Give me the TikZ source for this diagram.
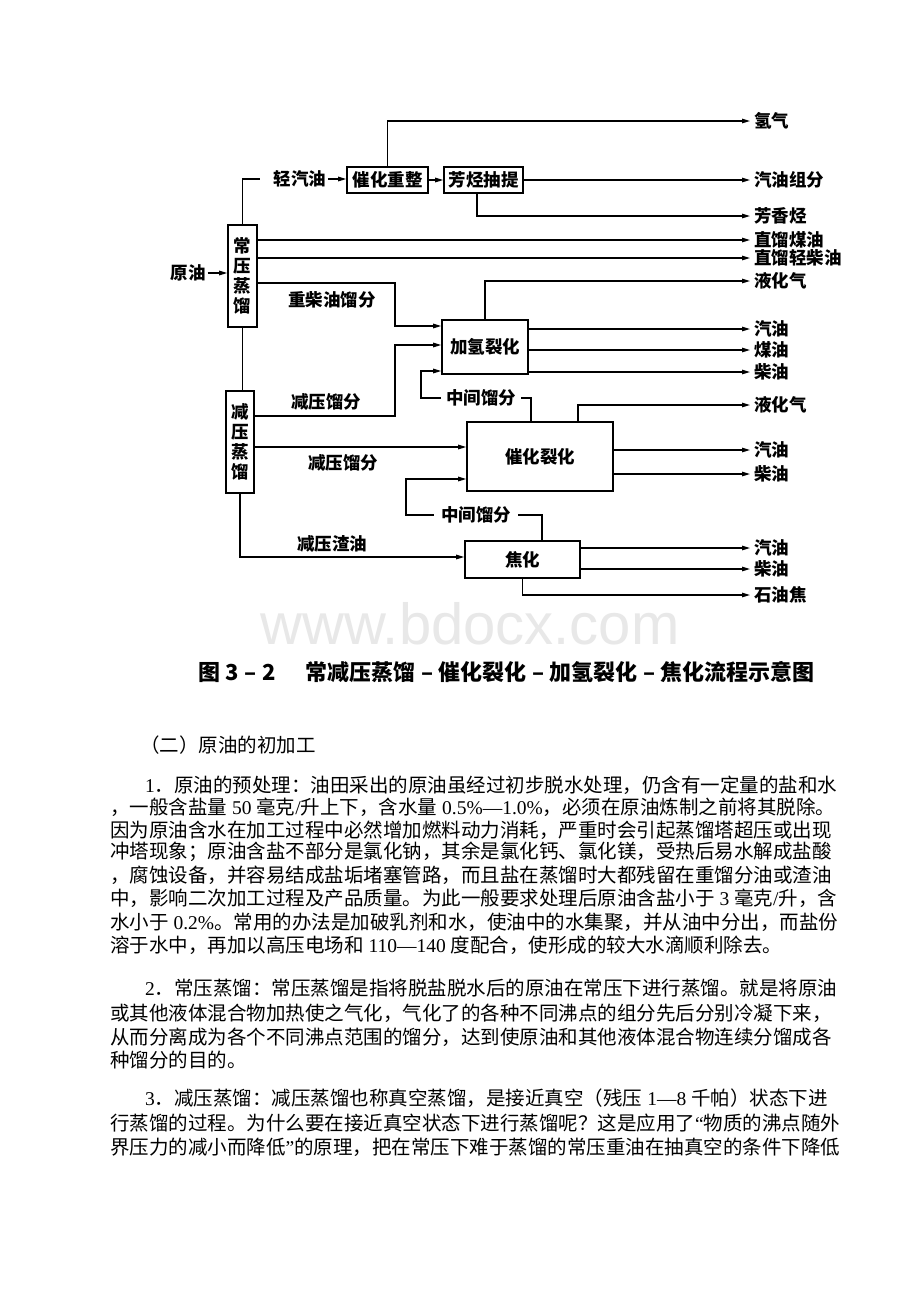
\documentclass[tikz,border=0pt]{standalone}
\usepackage{fontspec}
\setmainfont{Liberation Serif}
\newfontfamily\cjk{Noto Sans CJK SC}
\newfontfamily\wmfont{Liberation Sans}
\usetikzlibrary{arrows.meta}
\newcommand\myDia{\cjk\bfseries\fontsize{17.5}{20}\selectfont}
\newcommand\myBody{\cjk\fontsize{19.5}{22}\selectfont}
\newcommand\myCap{\cjk\bfseries\fontsize{22}{24}\selectfont}
\newcommand\lat[1]{{\rmfamily #1}}
\newcommand\cg{\hspace{5.5pt}}
\begin{document}
\begin{tikzpicture}[x=1pt,y=-1pt,
  box/.style={draw, line width=1.6pt, inner sep=0pt, font=\myDia, align=center},
  lbl/.style={inner xsep=2pt, inner ysep=0pt, font=\myDia},
  outl/.style={anchor=west, inner xsep=4pt, inner ysep=0pt, font=\myDia},
  flow/.style={line width=1.2pt},
  arr/.style={flow, -{Triangle[length=8pt,width=4.5pt]}},
  para/.style={anchor=west, inner sep=0pt, font=\myBody}]
\useasboundingbox (0,0) rectangle (920,1302);
\fill[white] (0,0) rectangle (920,1302);

% ---------- boxes ----------
\node[box, minimum width=29, minimum height=102] (cy) at (242.5,276) {常\\压\\蒸\\馏};
\node[box, minimum width=28, minimum height=102] (jy) at (240,442) {减\\压\\蒸\\馏};
\node[box, minimum width=81, minimum height=26] (zz) at (387.5,180) {催化重整};
\node[box, minimum width=79, minimum height=26] (ft) at (483.5,180) {芳烃抽提};
\node[box, minimum width=86, minimum height=54] (jq) at (485,347) {加氢裂化};
\node[box, minimum width=146, minimum height=69] (ch) at (540,456.5) {催化裂化};
\node[box, minimum width=115, minimum height=37] (jh) at (522.5,559.5) {焦化};

% ---------- inner labels ----------
\node[lbl] (yy) at (188,273) {原油};
\node[lbl] (qq) at (300,179) {轻汽油};
\node[lbl] (zcy) at (332,300) {重柴油馏分};
\node[lbl] (jyf1) at (326,402) {减压馏分};
\node[lbl] (jyf2) at (343,463) {减压馏分};
\node[lbl] (jyzy) at (332,544) {减压渣油};
\node[lbl, inner xsep=5pt] (zj1) at (481,398) {中间馏分};
\node[lbl, inner xsep=7pt] (zj2) at (476,515) {中间馏分};

% ---------- output labels ----------
\node[outl] (o1) at (750,121) {氢气};
\node[outl] (o2) at (750,180) {汽油组分};
\node[outl] (o3) at (750,216) {芳香烃};
\node[outl] (o4) at (750,240) {直馏煤油};
\node[outl] (o5) at (750,258) {直馏轻柴油};
\node[outl] (o6) at (750,281) {液化气};
\node[outl] (o7) at (750,329) {汽油};
\node[outl] (o8) at (750,350) {煤油};
\node[outl] (o9) at (750,372) {柴油};
\node[outl] (o10) at (750,405) {液化气};
\node[outl] (o11) at (750,450) {汽油};
\node[outl] (o12) at (750,474) {柴油};
\node[outl] (o13) at (750,548) {汽油};
\node[outl] (o14) at (750,569) {柴油};
\node[outl] (o15) at (750,595) {石油焦};

% ---------- helper coordinates ----------
\coordinate (qs) at (260,179);
\coordinate (p1) at (395,283);
\coordinate (r326) at (0,326);
\coordinate (p3) at (395,416);
\coordinate (r345) at (0,345);
\coordinate (c531) at (531,0);
\coordinate (c371) at (421,371);
\coordinate (r447) at (0,447);
\coordinate (c578) at (578,0);
\coordinate (c542) at (542,0);
\coordinate (c479) at (406,479);
\coordinate (r557) at (0,557);
\coordinate (c477) at (477,0);

% ---------- connectors ----------
\draw[arr] (yy.east) -- (cy.west |- yy.east);
\draw[flow] (cy.north) |- (qs);
\draw[arr] (qq.east) -- (zz.west |- qq.east);
\draw[arr] (zz.east) -- (ft.west);
\draw[arr] (zz.north) |- (o1.west);
\draw[arr] (ft.east) -- (o2.west);
\draw[arr] (ft.south -| c477) |- (o3.west);
\draw[arr] (cy.east |- o4.west) -- (o4.west);
\draw[arr] (cy.east |- o5.west) -- (o5.west);
\draw[arr] (cy.east |- p1) -- (p1) |- (jq.west |- r326);
\draw[arr] (jq.north) |- (o6.west);
\draw[flow] (cy.south) -- (jy.north -| cy.south);
\draw[arr] (jy.east |- p3) -- (p3) |- (jq.west |- r345);
\draw[flow] (ch.north -| c531) |- (zj1.east);
\draw[arr] (zj1.west) -| (c371) -- (jq.west |- c371);
\draw[arr] (jq.east |- o7.west) -- (o7.west);
\draw[arr] (jq.east |- o8.west) -- (o8.west);
\draw[arr] (jq.east |- o9.west) -- (o9.west);
\draw[arr] (jy.east |- r447) -- (ch.west |- r447);
\draw[arr] (ch.north -| c578) |- (o10.west);
\draw[arr] (ch.east |- o11.west) -- (o11.west);
\draw[arr] (ch.east |- o12.west) -- (o12.west);
\draw[flow] (jh.north -| c542) |- (zj2.east);
\draw[arr] (zj2.west) -| (c479) -- (ch.west |- c479);
\draw[arr] (jy.south) |- (jh.west |- r557);
\draw[arr] (jh.east |- o13.west) -- (o13.west);
\draw[arr] (jh.east |- o14.west) -- (o14.west);
\draw[arr] (jh.south) |- (o15.west);

% ---------- watermark ----------
\node[text=black!9, font=\wmfont\fontsize{58}{58}\selectfont, inner sep=0pt] (wm) at (470,624) {www.bdocx.com};

% ---------- caption ----------
\node[anchor=west, inner sep=0pt, font=\myCap] (cap) at (198,672)
  {图\cg 3\cg –\cg 2\hspace{30pt}常减压蒸馏\cg –\cg 催化裂化\cg –\cg 加氢裂化\cg –\cg 焦化流程示意图};

% ---------- body text ----------
\node[para] (h) at (140,745) {（二）原油的初加工};
\node[para] (a1) at (145,785) {\lat{1}．原油的预处理：油田采出的原油虽经过初步脱水处理，仍含有一定量的盐和水};
\node[para] (a2) at (110,807) {，一般含盐量\lat{ 50 }毫克\lat{/}升上下，含水量\lat{ 0.5\%—1.0\%}，必须在原油炼制之前将其脱除。};
\node[para] (a3) at (110,830) {因为原油含水在加工过程中必然增加燃料动力消耗，严重时会引起蒸馏塔超压或出现};
\node[para] (a4) at (110,852) {冲塔现象；原油含盐不部分是氯化钠，其余是氯化钙、氯化镁，受热后易水解成盐酸};
\node[para] (a5) at (110,875) {，腐蚀设备，并容易结成盐垢堵塞管路，而且盐在蒸馏时大都残留在重馏分油或渣油};
\node[para] (a6) at (110,898) {中，影响二次加工过程及产品质量。为此一般要求处理后原油含盐小于\lat{ 3 }毫克\lat{/}升，含};
\node[para] (a7) at (110,922) {水小于\lat{ 0.2\%}。常用的办法是加破乳剂和水，使油中的水集聚，并从油中分出，而盐份};
\node[para] (a8) at (110,945) {溶于水中，再加以高压电场和\lat{ 110—140 }度配合，使形成的较大水滴顺利除去。};

\node[para] (b1) at (145,988) {\lat{2}．常压蒸馏：常压蒸馏是指将脱盐脱水后的原油在常压下进行蒸馏。就是将原油};
\node[para] (b2) at (110,1013) {或其他液体混合物加热使之气化，气化了的各种不同沸点的组分先后分别冷凝下来，};
\node[para] (b3) at (110,1037) {从而分离成为各个不同沸点范围的馏分，达到使原油和其他液体混合物连续分馏成各};
\node[para] (b4) at (110,1060) {种馏分的目的。};

\node[para] (c1) at (145,1098) {\lat{3}．减压蒸馏：减压蒸馏也称真空蒸馏，是接近真空（残压\lat{ 1—8 }千帕）状态下进};
\node[para] (c2) at (110,1123) {行蒸馏的过程。为什么要在接近真空状态下进行蒸馏呢？这是应用了\lat{“}物质的沸点随外};
\node[para] (c3) at (110,1147) {界压力的减小而降低\lat{”}的原理，把在常压下难于蒸馏的常压重油在抽真空的条件下降低};
\end{tikzpicture}
\end{document}
